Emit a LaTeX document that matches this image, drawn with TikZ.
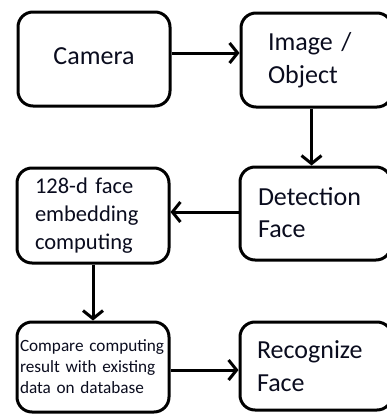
\documentclass[tikz,border=0pt]{standalone}
\usepackage{fontspec}
\setmainfont{Carlito}
\usetikzlibrary{arrows.meta,positioning}
\definecolor{txt}{RGB}{10,12,30}
\tikzset{
  box/.style={draw=black, line width=3pt, rounded corners=15pt, text=txt,
    minimum height=94pt, inner ysep=0pt, align=left},
  big/.style={font=\fontsize{26}{32.5}\selectfont},
  conn/.style={line width=3pt, -{Straight Barb[length=8pt,width=20pt,line width=3pt]}}
}
\begin{document}
\begin{tikzpicture}[x=1pt,y=-1pt]
\useasboundingbox (0,0) rectangle (386,415);
\node[box, big, minimum width=152pt, align=center] (cam) at (94,59) {\raisebox{5pt}{Camera}};
\node[box, big, minimum width=151pt, text width=97pt, inner xsep=27pt] (img) at (316.5,60) {Image /\\Object};
\node[box, big, minimum width=151pt, minimum height=93pt, text width=115pt, inner xsep=18pt] (det) at (315.5,213.5) {\raisebox{2pt}{Detection}\\\raisebox{2pt}{Face}};
\node[box, minimum width=152pt, minimum height=95pt, text width=116pt, inner xsep=18pt, font=\fontsize{22.5}{28.2}\selectfont] (emb) at (93,215.5) {128-d face\\embedding\\computing};
\node[box, minimum width=152pt, minimum height=90pt, text width=146pt, inner xsep=3pt, font=\fontsize{17.2}{21}\selectfont] (cmp) at (93,367) {Compare computing\\result with existing\\data on database};
\node[box, big, minimum width=152pt, minimum height=88pt, text width=118pt, inner xsep=17pt] (rec) at (316,366) {Recognize\\Face};
\coordinate (a1) at ([yshift=6pt]cam.east);
\coordinate (a2) at ([xshift=72pt]img.south west);
\coordinate (a3) at ([xshift=73pt]det.north west);
\coordinate (a4) at ([yshift=1.5pt]det.west);
\coordinate (a5) at ([yshift=-3pt]cmp.east);
\draw[conn] (a1) -- (img.west |- a1);
\draw[conn] (a2) -- (a3);
\draw[conn] (a4) -- (emb.east |- a4);
\draw[conn] (emb.south) -- (cmp.north);
\draw[conn] (a5) -- (rec.west |- a5);
\end{tikzpicture}
\end{document}
